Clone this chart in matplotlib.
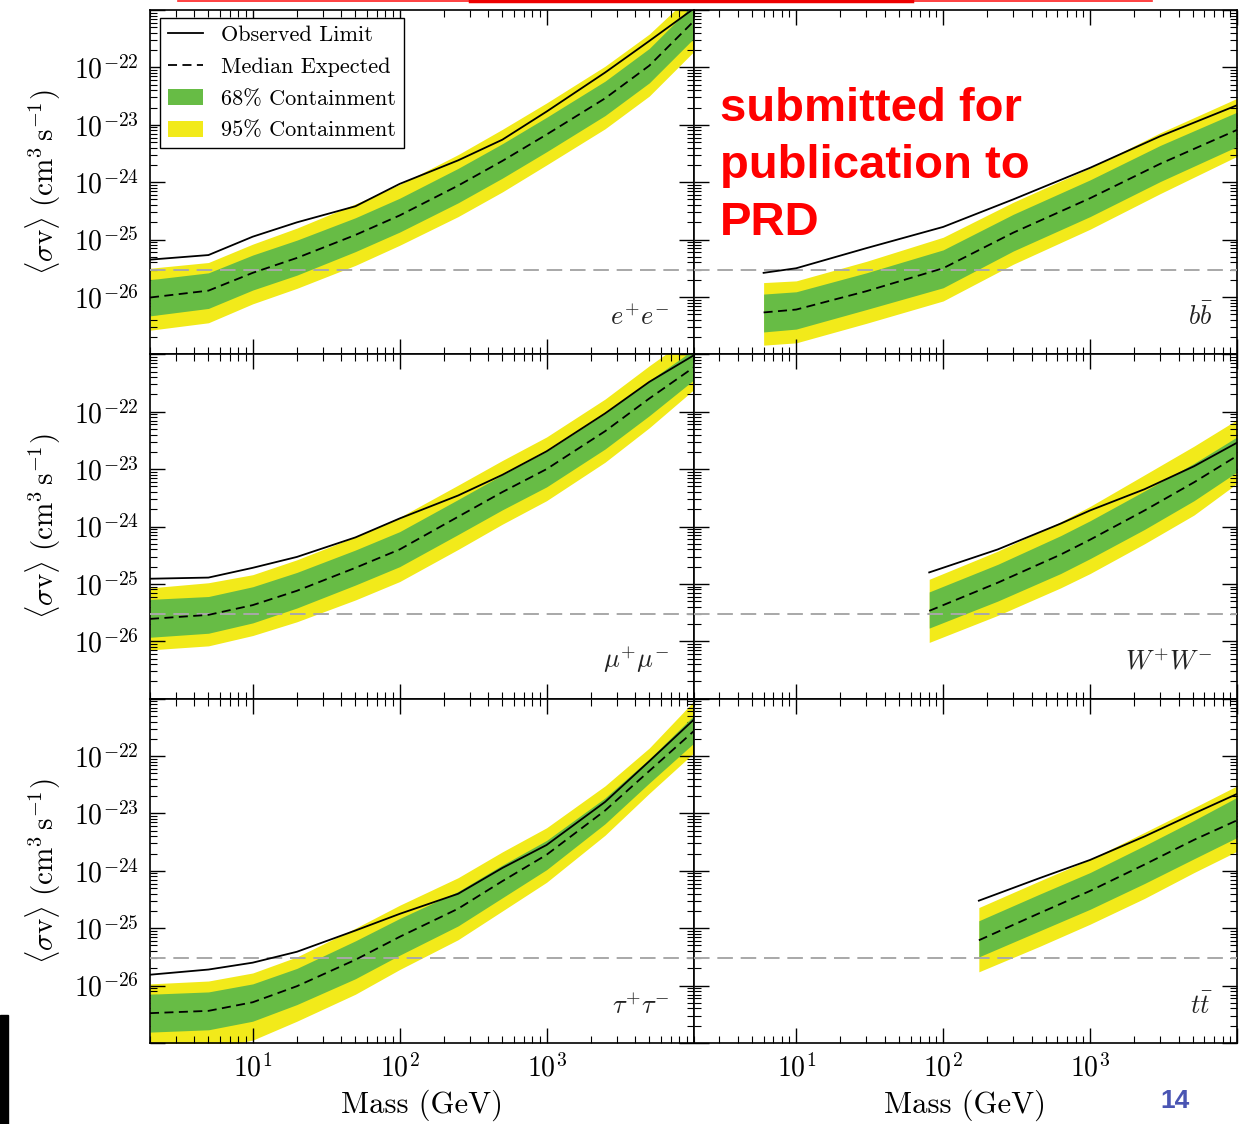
import numpy as np
import matplotlib
matplotlib.use('Agg')
import matplotlib.pyplot as plt
from matplotlib.ticker import LogLocator, NullFormatter
from matplotlib.lines import Line2D
from matplotlib.patches import Patch, Rectangle

plt.rcParams['font.family'] = 'serif'
plt.rcParams['font.serif'] = ['cmr10', 'DejaVu Serif']
plt.rcParams['mathtext.fontset'] = 'cm'
plt.rcParams['axes.unicode_minus'] = False
plt.rcParams['axes.formatter.use_mathtext'] = True

# upper limits on <sigma v>, stored as log10 values
# e+ e-
ee_mass = [2, 5, 10, 20, 50, 100, 250, 500, 1000, 2500, 5000, 10000]
ee_obs  = [-25.35, -25.27, -24.95, -24.70, -24.42, -24.03, -23.62, -23.26, -22.77, -22.09, -21.54, -20.98]
ee_med  = [-26.01, -25.89, -25.58, -25.32, -24.92, -24.58, -24.06, -23.63, -23.17, -22.54, -21.97, -21.20]
ee_hi95 = [-25.50, -25.40, -25.08, -24.80, -24.38, -24.04, -23.52, -23.08, -22.62, -21.98, -21.42, -20.70]
ee_hi68 = [-25.70, -25.58, -25.27, -25.01, -24.62, -24.28, -23.76, -23.33, -22.87, -22.24, -21.67, -20.90]
ee_lo68 = [-26.33, -26.20, -25.88, -25.62, -25.21, -24.87, -24.36, -23.93, -23.47, -22.84, -22.27, -21.50]
ee_lo95 = [-26.58, -26.45, -26.12, -25.85, -25.45, -25.10, -24.60, -24.17, -23.70, -23.07, -22.50, -21.73]

# mu+ mu-
mm_mass = [2, 5, 10, 20, 50, 100, 250, 500, 1000, 2500, 5000, 10000]
mm_obs  = [-24.91, -24.89, -24.72, -24.53, -24.19, -23.86, -23.46, -23.10, -22.69, -22.03, -21.48, -21.02]
mm_med  = [-25.61, -25.54, -25.37, -25.12, -24.72, -24.40, -23.83, -23.40, -23.00, -22.34, -21.77, -21.23]
mm_hi95 = [-25.07, -24.98, -24.84, -24.58, -24.18, -23.84, -23.28, -22.85, -22.44, -21.78, -21.20, -20.65]
mm_hi68 = [-25.27, -25.22, -25.05, -24.80, -24.41, -24.09, -23.53, -23.10, -22.69, -22.03, -21.46, -20.92]
mm_lo68 = [-25.93, -25.86, -25.68, -25.42, -25.02, -24.70, -24.14, -23.71, -23.31, -22.65, -22.07, -21.45]
mm_lo95 = [-26.15, -26.08, -25.90, -25.66, -25.28, -24.96, -24.40, -23.96, -23.55, -22.88, -22.28, -21.62]

# tau+ tau-
tt_mass = [2, 5, 10, 20, 50, 100, 250, 500, 1000, 2500, 5000, 10000]
tt_obs  = [-25.81, -25.72, -25.60, -25.41, -25.04, -24.75, -24.40, -23.95, -23.55, -22.80, -22.09, -21.37]
tt_med  = [-26.48, -26.44, -26.29, -26.01, -25.55, -25.15, -24.66, -24.18, -23.72, -22.95, -22.26, -21.57]
tt_hi95 = [-25.97, -25.92, -25.78, -25.50, -25.00, -24.60, -24.12, -23.67, -23.25, -22.52, -21.86, -21.05]
tt_hi68 = [-26.15, -26.11, -25.97, -25.70, -25.22, -24.83, -24.36, -23.90, -23.47, -22.73, -22.05, -21.30]
tt_lo68 = [-26.81, -26.77, -26.62, -26.33, -25.88, -25.47, -24.96, -24.47, -23.98, -23.18, -22.47, -21.78]
tt_lo95 = [-27.15, -27.10, -26.95, -26.62, -26.15, -25.72, -25.20, -24.70, -24.20, -23.38, -22.65, -21.95]

# b bbar
bb_mass = [6, 10, 30, 100, 300, 1000, 3000, 10000]
bb_obs  = [-25.58, -25.50, -25.15, -24.78, -24.30, -23.75, -23.20, -22.66]
bb_med  = [-26.27, -26.22, -25.90, -25.50, -24.88, -24.28, -23.68, -23.09]
bb_hi95 = [-25.75, -25.72, -25.38, -24.96, -24.35, -23.75, -23.14, -22.54]
bb_hi68 = [-25.95, -25.91, -25.58, -25.18, -24.56, -23.96, -23.36, -22.78]
bb_lo68 = [-26.61, -26.56, -26.22, -25.84, -25.20, -24.60, -23.99, -23.38]
bb_lo95 = [-26.84, -26.80, -26.46, -26.07, -25.43, -24.82, -24.20, -23.55]

# W+ W-
ww_mass = [80.4, 235, 630, 1000, 2350, 5100, 10000]
ww_obs  = [-24.80, -24.40, -23.95, -23.72, -23.35, -22.95, -22.54]
ww_med  = [-25.47, -24.98, -24.49, -24.23, -23.72, -23.23, -22.77]
ww_hi95 = [-24.92, -24.43, -23.92, -23.65, -23.10, -22.60, -22.14]
ww_hi68 = [-25.14, -24.66, -24.16, -23.90, -23.38, -22.90, -22.44]
ww_lo68 = [-25.77, -25.30, -24.82, -24.56, -24.05, -23.55, -23.05]
ww_lo95 = [-26.02, -25.55, -25.07, -24.82, -24.30, -23.80, -23.25]

# t tbar
top_mass = [175, 450, 1000, 2350, 5100, 10000]
top_obs  = [-24.52, -24.13, -23.81, -23.40, -23.00, -22.66]
top_med  = [-25.21, -24.74, -24.35, -23.89, -23.46, -23.12]
top_hi95 = [-24.64, -24.18, -23.80, -23.33, -22.90, -22.52]
top_hi68 = [-24.87, -24.41, -24.03, -23.56, -23.12, -22.72]
top_lo68 = [-25.50, -25.05, -24.67, -24.22, -23.79, -23.42]
top_lo95 = [-25.76, -25.32, -24.93, -24.48, -24.03, -23.66]

thermal_xsec = 3e-26
channel_names = [r'$e^{+}e^{-}$', r'$b\bar{b}$', r'$\mu^{+}\mu^{-}$', r'$W^{+}W^{-}$',
                 r'$\tau^{+}\tau^{-}$', r'$t\bar{t}$']
legend_labels = ['Observed Limit', 'Median Expected', '68% Containment', '95% Containment']

panels = [
    (ee_mass, ee_obs, ee_med, ee_lo68, ee_hi68, ee_lo95, ee_hi95),
    (bb_mass, bb_obs, bb_med, bb_lo68, bb_hi68, bb_lo95, bb_hi95),
    (mm_mass, mm_obs, mm_med, mm_lo68, mm_hi68, mm_lo95, mm_hi95),
    (ww_mass, ww_obs, ww_med, ww_lo68, ww_hi68, ww_lo95, ww_hi95),
    (tt_mass, tt_obs, tt_med, tt_lo68, tt_hi68, tt_lo95, tt_hi95),
    (top_mass, top_obs, top_med, top_lo68, top_hi68, top_lo95, top_hi95),
]

green = '#67bc45'
yellow = '#f2ea1a'

fig, axes = plt.subplots(3, 2, figsize=(12.4, 11.24), dpi=100, sharex=True, sharey=True)
fig.subplots_adjust(left=150/1240, right=1237/1240, top=1-10/1124, bottom=1-1043/1124,
                    wspace=0, hspace=0)

for i, ax in enumerate(axes.flat):
    m, obs, med, lo68, hi68, lo95, hi95 = panels[i]
    m = np.array(m)
    p = lambda a: 10.0 ** np.array(a)
    ax.fill_between(m, p(lo95), p(hi95), color=yellow, lw=0, zorder=1)
    ax.fill_between(m, p(lo68), p(hi68), color=green, lw=0, zorder=2)
    ax.axhline(thermal_xsec, color='#a8a8a8', lw=1.4, ls=(0, (8, 4)), zorder=3)
    ax.plot(m, p(obs), color='black', lw=1.3, zorder=4)
    ax.plot(m, p(med), color='black', lw=1.3, ls=(0, (5, 3)), zorder=4)

    ax.set_xscale('log')
    ax.set_yscale('log')
    ax.set_xlim(2, 1e4)
    ax.set_ylim(1e-27, 1e-21)

    ax.set_yticks([10.0 ** k for k in range(-27, -20)])
    ax.set_yticklabels(['' if k in (-27, -21) else r'$10^{%d}$' % k for k in range(-27, -20)])
    ax.set_xticks([1e1, 1e2, 1e3, 1e4])
    ax.set_xticklabels([r'$10^{1}$', r'$10^{2}$', r'$10^{3}$', ''])
    ax.yaxis.set_minor_locator(LogLocator(base=10, subs=np.arange(2, 10), numticks=50))
    ax.xaxis.set_minor_locator(LogLocator(base=10, subs=np.arange(2, 10), numticks=50))
    ax.yaxis.set_minor_formatter(NullFormatter())
    ax.xaxis.set_minor_formatter(NullFormatter())

    ax.tick_params(which='both', direction='in', top=True, right=True, labelsize=20)
    ax.tick_params(which='major', length=11, width=1.0, pad=8)
    ax.tick_params(which='minor', length=5, width=0.8)
    if i % 2 == 1:
        ax.tick_params(labelleft=False)
    if i < 4:
        ax.tick_params(labelbottom=False)
    for s in ax.spines.values():
        s.set_linewidth(1.2)

    ax.text(0.955, 0.07, channel_names[i], transform=ax.transAxes, ha='right', va='bottom',
            fontsize=19, color='#222222')

    if i % 2 == 0:
        ax.set_ylabel(r'$\langle\sigma\mathrm{v}\rangle\ (\mathrm{cm}^3\,\mathrm{s}^{-1})$',
                      fontsize=21, labelpad=8)
    if i >= 4:
        ax.set_xlabel('Mass (GeV)', fontsize=22, labelpad=5)

handles = [Line2D([], [], color='black', lw=1.3),
           Line2D([], [], color='black', lw=1.3, ls=(0, (5, 3))),
           Patch(facecolor=green, edgecolor='none'),
           Patch(facecolor=yellow, edgecolor='none')]
leg = axes[0, 0].legend(handles, legend_labels, loc='upper left', bbox_to_anchor=(0.018, 0.977),
                        borderaxespad=0, fontsize=16, frameon=True, fancybox=False,
                        framealpha=1, edgecolor='black', handlelength=1.6, handletextpad=0.8,
                        labelspacing=0.55, borderpad=0.35)
leg.get_frame().set_linewidth(1.0)

# annotation overlays
fig.text(720/1240, 1-87/1124, 'submitted for\npublication to\nPRD', color='#ff0000',
         fontsize=34, fontweight='bold', family='Liberation Sans', va='top', ha='left',
         linespacing=1.38)
fig.text(1175/1240, 1-1101/1124, '14', color='#4a55b3', fontsize=19, fontweight='bold',
         family='Liberation Sans', ha='center', va='center')
fig.add_artist(Line2D([178/1240, 1152/1240], [1-1/1124, 1-1/1124], color='#ff2020', lw=1.2,
                      transform=fig.transFigure))
fig.add_artist(Line2D([470/1240, 912/1240], [1-1/1124, 1-1/1124], color='#ee0000', lw=2.5,
                      transform=fig.transFigure))
fig.add_artist(Rectangle((0, 0), 8/1240, 109/1124, color='black', transform=fig.transFigure))

fig.savefig('out.png', dpi=100)
